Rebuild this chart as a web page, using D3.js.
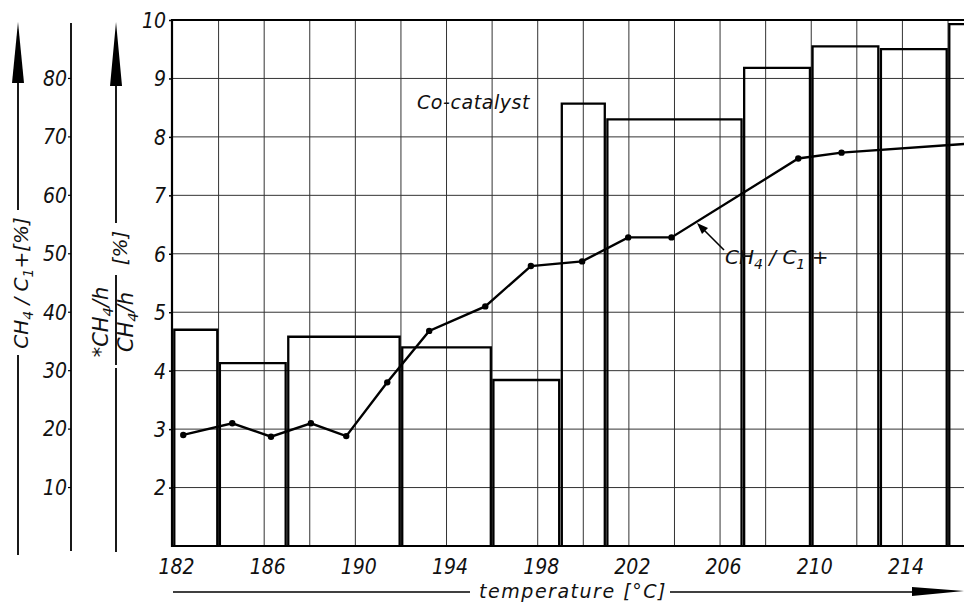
<!DOCTYPE html>
<html>
<head>
<meta charset="utf-8">
<script src="https://cdn.jsdelivr.net/npm/d3@7"></script>
<style>
  body { margin: 0; background: #fff; }
  svg { display: block; }
  text { font-family: "DejaVu Sans Condensed", "DejaVu Sans", sans-serif; font-style: italic; fill: #111; }
  text.wide { font-family: "DejaVu Sans", sans-serif; }
</style>
</head>
<body>
<svg id="chart" width="964" height="602"></svg>
<script>
// Co-catalyst histogram: temperature bins [°C] and *CH4/h / CH4/h values
const binStart = [182, 184, 187, 192, 196, 199, 201, 207, 210, 213, 216]
const binEnd   = [184, 187, 192, 196, 199, 201, 207, 210, 213, 216, 218]
const binValue = [4.7, 4.13, 4.58, 4.4, 3.84, 8.57, 8.3, 9.18, 9.55, 9.5, 9.93]

// CH4/C1+ [%] curve
const lineTemp = [182.45, 184.6, 186.3, 188.05, 189.6, 191.4, 193.24, 195.7, 197.7, 199.95, 201.97, 203.87, 209.43, 211.33, 216.8]
const linePct  = [19, 21, 18.7, 21, 18.8, 28, 36.8, 41, 47.9, 48.7, 52.8, 52.8, 66.3, 67.3, 68.8]

const xTicks = [182, 186, 190, 194, 198, 202, 206, 210, 214]
const xGrid = d3.range(184, 217, 2)
const yTicks = [2, 3, 4, 5, 6, 7, 8, 9, 10]
const pctTicks = [10, 20, 30, 40, 50, 60, 70, 80]

const svg = d3.select('#chart')
const plotLeft = 172, plotTop = 20, plotBottom = 546, plotRight = 964

const x = d3.scaleLinear().domain([182, 216]).range([173, 948])
const y = d3.scaleLinear().domain([1, 10]).range([plotBottom, plotTop])
// percent scale shares the ratio axis: 10 % <-> 2, 80 % <-> 9
const pct = v => y(v / 10 + 1)

svg.append('defs').append('clipPath').attr('id', 'plot')
  .append('rect').attr('x', plotLeft).attr('y', plotTop - 2)
  .attr('width', plotRight - plotLeft).attr('height', plotBottom - plotTop + 4)

const plot = svg.append('g').attr('clip-path', 'url(#plot)')

// grid
plot.append('g').selectAll('line')
  .data(xGrid)
  .join('line')
  .attr('x1', d => x(d)).attr('x2', d => x(d))
  .attr('y1', plotTop).attr('y2', plotBottom)
  .attr('stroke', '#333').attr('stroke-width', 1)

plot.append('g').selectAll('line')
  .data(yTicks.slice(0, -1))
  .join('line')
  .attr('x1', plotLeft).attr('x2', plotRight)
  .attr('y1', d => y(d)).attr('y2', d => y(d))
  .attr('stroke', '#333').attr('stroke-width', 1)

// histogram bars (open rectangles standing on the baseline)
plot.append('g').selectAll('path')
  .data(binValue.map((v, i) => ({ x0: binStart[i], x1: binEnd[i], v })))
  .join('path')
  .attr('fill', 'none')
  .attr('stroke', '#000')
  .attr('stroke-width', 2.3)
  .attr('d', d => `M${x(d.x0) + 1.3},${plotBottom}V${y(d.v)}H${x(d.x1) - 1.3}V${plotBottom}`)

// CH4/C1+ line
const pts = lineTemp.map((t, i) => ({ t, p: linePct[i] }))
plot.append('path')
  .datum(pts)
  .attr('fill', 'none')
  .attr('stroke', '#000')
  .attr('stroke-width', 2.4)
  .attr('d', d3.line().x(d => x(d.t)).y(d => pct(d.p)))

plot.append('g').selectAll('circle')
  .data(pts.filter(d => d.t <= 216))
  .join('circle')
  .attr('cx', d => x(d.t)).attr('cy', d => pct(d.p))
  .attr('r', 3.2).attr('fill', '#000')

// frame
svg.append('line').attr('x1', plotLeft).attr('x2', plotRight).attr('y1', plotTop).attr('y2', plotTop)
  .attr('stroke', '#000').attr('stroke-width', 2)
svg.append('line').attr('x1', plotLeft).attr('x2', plotLeft).attr('y1', plotTop - 1).attr('y2', plotBottom + 1)
  .attr('stroke', '#000').attr('stroke-width', 2.2)
svg.append('line').attr('x1', plotLeft).attr('x2', plotRight).attr('y1', plotBottom).attr('y2', plotBottom)
  .attr('stroke', '#000').attr('stroke-width', 2.2)

// axes
const xAxis = svg.append('g')
  .attr('transform', `translate(0,${plotBottom})`)
  .call(d3.axisBottom(x).tickValues(xTicks).tickSize(0).tickPadding(8).tickFormat(d3.format('d')))
xAxis.select('.domain').remove()
xAxis.selectAll('text').attr('font-size', 21).attr('dy', '0.95em').attr('dx', 3)

const yAxis = svg.append('g')
  .attr('transform', `translate(${plotLeft},0)`)
  .call(d3.axisLeft(y).tickValues(yTicks).tickSize(3).tickPadding(3).tickFormat(d3.format('d')))
yAxis.select('.domain').remove()
yAxis.selectAll('line').attr('stroke', '#000').attr('stroke-width', 1.5)
yAxis.selectAll('text').attr('font-size', 21).attr('dy', '0.35em')

const pctAxis = svg.append('g').attr('transform', 'translate(71,0)')
pctAxis.append('line').attr('y1', 23).attr('y2', 551).attr('stroke', '#000').attr('stroke-width', 1.8)
const pctTick = pctAxis.selectAll('g.tick')
  .data(pctTicks)
  .join('g')
  .attr('class', 'tick')
  .attr('transform', d => `translate(0,${pct(d)})`)
pctTick.append('line').attr('x1', -3).attr('x2', 0).attr('stroke', '#000').attr('stroke-width', 1.2)
pctTick.append('text')
  .attr('x', -4).attr('dy', '0.35em')
  .attr('text-anchor', 'end').attr('font-size', 21)
  .text(d => d)

// upward arrows with vertical labels
function arrowUp(cx, tipY, baseY, shaftEnd, lowStart, lowEnd) {
  svg.append('path')
    .attr('d', `M${cx},${tipY}L${cx + 6},${baseY}L${cx - 6},${baseY}Z`)
    .attr('fill', '#000')
  svg.append('line').attr('x1', cx).attr('x2', cx).attr('y1', baseY).attr('y2', shaftEnd)
    .attr('stroke', '#000').attr('stroke-width', 1.8)
  svg.append('line').attr('x1', cx).attr('x2', cx).attr('y1', lowStart).attr('y2', lowEnd)
    .attr('stroke', '#000').attr('stroke-width', 1.8)
}

arrowUp(18, 22, 83, 210, 355, 555)
arrowUp(116, 22, 86, 223, 368, 552)

function subText(sel, parts, size) {
  parts.forEach(p => {
    const t = sel.append('tspan').text(p.t)
    if (p.sub) t.attr('font-size', size * 0.7).attr('dy', size * 0.25)
    else if (p.after) t.attr('dy', -size * 0.25)
  })
}

const lab1 = svg.append('text')
  .attr('class', 'wide')
  .attr('transform', 'translate(28,283) rotate(-90)')
  .attr('text-anchor', 'middle').attr('font-size', 20)
subText(lab1, [{ t: 'CH' }, { t: '4', sub: true }, { t: ' / C', after: true }, { t: '1', sub: true }, { t: '+[%]', after: true }], 20)

svg.append('text')
  .attr('class', 'wide')
  .attr('transform', 'translate(127,248) rotate(-90)')
  .attr('text-anchor', 'middle').attr('font-size', 20)
  .text('[%]')

const num = svg.append('text')
  .attr('class', 'wide')
  .attr('transform', 'translate(108,322) rotate(-90)')
  .attr('text-anchor', 'middle').attr('font-size', 21)
subText(num, [{ t: '*CH' }, { t: '4', sub: true }, { t: '/h', after: true }], 21)

const den = svg.append('text')
  .attr('class', 'wide')
  .attr('transform', 'translate(133,322) rotate(-90)')
  .attr('text-anchor', 'middle').attr('font-size', 21)
subText(den, [{ t: 'CH' }, { t: '4', sub: true }, { t: '/h', after: true }], 21)

svg.append('line').attr('x1', 116).attr('x2', 116).attr('y1', 275).attr('y2', 365)
  .attr('stroke', '#000').attr('stroke-width', 1.8)

// x-axis title with arrow
svg.append('line').attr('x1', 173).attr('x2', 470).attr('y1', 592).attr('y2', 592)
  .attr('stroke', '#000').attr('stroke-width', 1.5)
svg.append('line').attr('x1', 670).attr('x2', 915).attr('y1', 592).attr('y2', 592)
  .attr('stroke', '#000').attr('stroke-width', 1.5)
svg.append('path').attr('d', 'M964,591L912,587L912,596Z').attr('fill', '#000')
svg.append('text')
  .attr('class', 'wide')
  .attr('x', 573).attr('y', 598)
  .attr('text-anchor', 'middle').attr('font-size', 19)
  .attr('letter-spacing', '0.08em')
  .text('temperature [°C]')

// annotations
svg.append('text')
  .attr('class', 'wide')
  .attr('x', 417).attr('y', 109)
  .attr('font-size', 19)
  .attr('letter-spacing', '0.03em')
  .text('Co-catalyst')

const ann = svg.append('text').attr('class', 'wide').attr('x', 725).attr('y', 264).attr('font-size', 20)
subText(ann, [{ t: 'CH' }, { t: '4', sub: true }, { t: ' / C', after: true }, { t: '1', sub: true }, { t: ' +', after: true }], 20)

svg.append('line').attr('x1', 724).attr('y1', 250).attr('x2', 702).attr('y2', 228)
  .attr('stroke', '#000').attr('stroke-width', 1.6)
svg.append('path').attr('d', 'M697,223L708,228L702,234Z').attr('fill', '#000')
</script>
</body>
</html>
